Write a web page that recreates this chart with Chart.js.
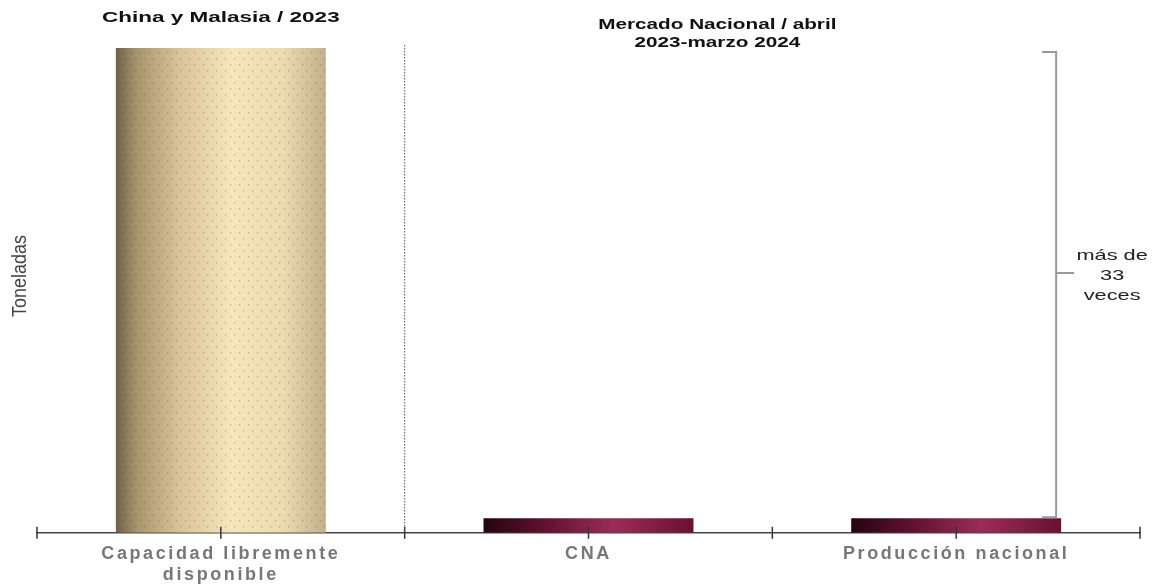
<!DOCTYPE html>
<html>
<head>
<meta charset="utf-8">
<script src="https://cdn.jsdelivr.net/npm/chart.js@4/dist/chart.umd.min.js"></script>
<style>
  html, body { margin: 0; padding: 0; background: #fff; }
  #wrap { width: 1154px; height: 584px; }
</style>
</head>
<body>
<div id="wrap"><canvas id="chart"></canvas></div>
<script>
const categories = [['Capacidad libremente', 'disponible'], 'CNA', 'Producción nacional']
const toneladas = [33.5, 1, 1]
const groupTitles = ['China y Malasia / 2023', ['Mercado Nacional / abril', '2023-marzo 2024']]
const ratioNote = ['más de', '33', 'veces']
const yTitle = 'Toneladas'
const barShare = 0.571

// gradient per bar, from the x scale position of the category
function barFill(ctx){
    const chart = ctx.chart
    const x = chart.scales.x
    if(!chart.chartArea || !x) return ctx.dataIndex == 0 ? '#e8d4a8' : '#7a1a3c'
    const step = x.getPixelForTick(1) - x.getPixelForTick(0)
    const cx = x.getPixelForTick(ctx.dataIndex)
    const w = step * barShare
    const g = chart.ctx.createLinearGradient(cx - w / 2, 0, cx + w / 2, 0)
    if(ctx.dataIndex == 0){
        g.addColorStop(0, '#6f6048')
        g.addColorStop(0.1, '#a8946e')
        g.addColorStop(0.3, '#d9c397')
        g.addColorStop(0.55, '#f7e5bb')
        g.addColorStop(0.8, '#eedab0')
        g.addColorStop(1, '#c2b08b')
    } else {
        g.addColorStop(0, '#25040f')
        g.addColorStop(0.3, '#621230')
        g.addColorStop(0.62, '#9c2c58')
        g.addColorStop(1, '#6a1030')
    }
    return g
}

function wideText(c, txt, x, y, sx){
    c.save()
    c.translate(x, y)
    c.scale(sx, 1)
    c.fillText(txt, 0, 0)
    c.restore()
}

const decor = {
    id: 'decor',
    beforeDraw(chart){
        chart.ctx.letterSpacing = '2.6px'
    },
    afterDatasetsDraw(chart){
        const c = chart.ctx
        const x = chart.scales.x
        const area = chart.chartArea
        const meta = chart.getDatasetMeta(0)
        c.save()
        c.letterSpacing = '0px'
        // dot texture on the big bar
        const b = meta.data[0]
        c.fillStyle = 'rgba(110,90,60,0.3)'
        for(let yy = b.y + 4, r = 0; yy < b.base - 2; yy += 6, r++){
            for(let xx = b.x - b.width / 2 + 6; xx < b.x + b.width / 2 - 4; xx += 9){
                c.fillRect(xx + (r % 2 ? 4 : 0), yy, 1.5, 1.5)
            }
        }

        const step = x.getPixelForTick(1) - x.getPixelForTick(0)
        const yAxis = area.bottom
        // tick marks at edges, centers and boundaries
        c.strokeStyle = '#333'
        c.lineWidth = 1.5
        const marks = []
        for(let i = 0; i < categories.length; i++){
            marks.push(x.getPixelForTick(i) - step / 2, x.getPixelForTick(i))
        }
        marks.push(x.getPixelForTick(categories.length - 1) + step / 2)
        marks.forEach(px => {
            c.beginPath(); c.moveTo(px, yAxis - 6); c.lineTo(px, yAxis + 6); c.stroke()
        })
        // dotted divider
        const div = x.getPixelForTick(0) + step / 2
        c.strokeStyle = '#555'
        c.lineWidth = 1
        c.setLineDash([1.5, 1.5])
        c.beginPath(); c.moveTo(div, 45); c.lineTo(div, yAxis); c.stroke()
        c.setLineDash([])

        // group titles
        c.fillStyle = '#111'
        c.font = 'bold 15px "Liberation Sans", Arial, sans-serif'
        c.textAlign = 'center'
        c.textBaseline = 'middle'
        wideText(c, groupTitles[0], x.getPixelForTick(0), 18, 1.5)
        const mid = (x.getPixelForTick(1) + x.getPixelForTick(2)) / 2 - 55
        wideText(c, groupTitles[1][0], mid, 25, 1.38)
        wideText(c, groupTitles[1][1], mid, 43, 1.38)

        // bracket between big bar top and small bar top
        const top = meta.data[0].y + 4
        const bot = meta.data[2].y - 1
        const bx = meta.data[2].x + meta.data[2].width / 2 - 5
        c.strokeStyle = '#999'
        c.lineWidth = 2
        c.beginPath()
        c.moveTo(bx - 14, top); c.lineTo(bx, top); c.lineTo(bx, bot); c.lineTo(bx - 14, bot)
        const my = top + (bot - top) * 0.475
        c.moveTo(bx, my); c.lineTo(bx + 18, my)
        c.stroke()
        c.fillStyle = '#222'
        c.font = '15px "Liberation Sans", Arial, sans-serif'
        ratioNote.forEach((t, i) => wideText(c, t, bx + 56, my - 17 + i * 20, 1.45))

        // y title
        c.translate(20, 276)
        c.rotate(-Math.PI / 2)
        c.scale(0.9, 1)
        c.fillStyle = '#444'
        c.font = '20px "Liberation Sans", Arial, sans-serif'
        c.fillText(yTitle, 0, 0)
        c.restore()
    }
}

new Chart(document.getElementById('chart'), {
    type: 'bar',
    data: {
        labels: categories,
        datasets: [{
            data: toneladas,
            backgroundColor: barFill,
            borderWidth: 0,
            categoryPercentage: barShare,
            barPercentage: 1
        }]
    },
    options: {
        responsive: true,
        maintainAspectRatio: false,
        animation: false,
        layout: { padding: { left: 37, right: 14, top: 48, bottom: -12 } },
        plugins: { legend: { display: false }, tooltip: { enabled: false } },
        scales: {
            x: {
                grid: { display: false, drawTicks: false },
                border: { display: true, color: '#444', width: 1.5 },
                ticks: {
                    color: '#777',
                    padding: 10,
                    font: { family: '"Liberation Sans", Arial, sans-serif', size: 18, weight: 'bold' }
                }
            },
            y: { display: false, min: 0, max: toneladas[0] }
        }
    },
    plugins: [decor]
})
</script>
</body>
</html>
